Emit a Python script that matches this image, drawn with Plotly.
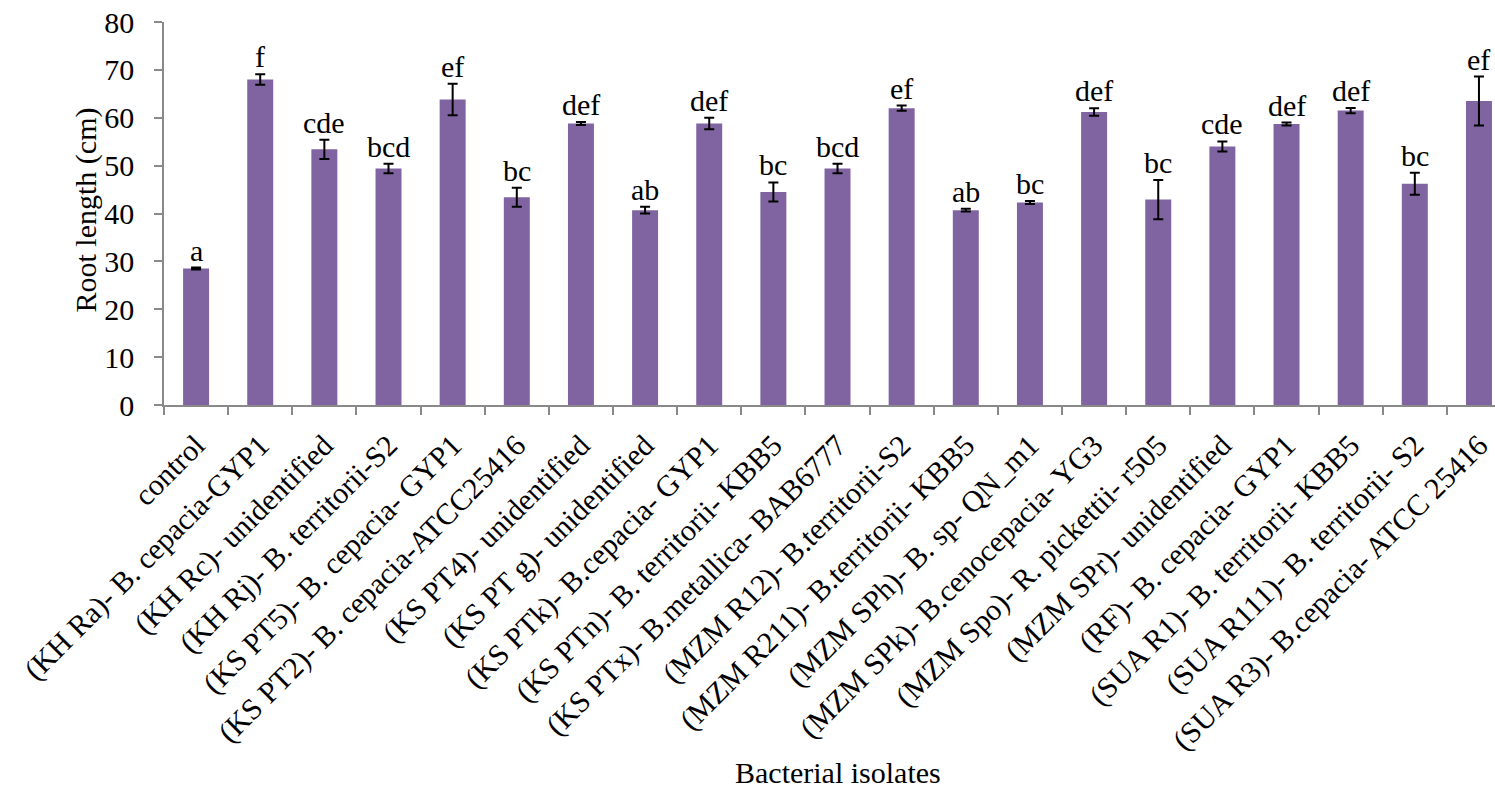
import plotly.graph_objects as go

# Bacterial isolates tested and mean root length (cm) with standard errors
isolates = [
    "control",
    "(KH Ra)- B. cepacia-GYP1",
    "(KH Rc)- unidentified",
    "(KH Rj)- B. territorii-S2",
    "(KS PT5)- B. cepacia- GYP1",
    "(KS PT2)- B. cepacia-ATCC25416",
    "(KS PT4)- unidentified",
    "(KS PT g)- unidentified",
    "(KS PTk)- B.cepacia- GYP1",
    "(KS PTn)- B. territorii- KBB5",
    "(KS PTx)- B.metallica- BAB6777",
    "(MZM R12)- B.territorii-S2",
    "(MZM R211)- B.territorii- KBB5",
    "(MZM SPh)- B. sp- QN_m1",
    "(MZM SPk)- B.cenocepacia- YG3",
    "(MZM Spo)- R. pickettii- r505",
    "(MZM SPr)- unidentified",
    "(RF)- B. cepacia- GYP1",
    "(SUA R1)- B. territorii- KBB5",
    "(SUA R111)- B. territorii- S2",
    "(SUA R3)- B.cepacia- ATCC 25416",
]
root_length = [28.5, 68.0, 53.4, 49.4, 63.8, 43.4, 58.8, 40.7, 58.8, 44.5, 49.4,
               62.0, 40.7, 42.3, 61.2, 42.9, 54.0, 58.7, 61.5, 46.2, 63.5]
std_err = [0.2, 1.1, 2.0, 1.0, 3.3, 2.0, 0.3, 0.7, 1.2, 2.0, 1.0,
           0.55, 0.3, 0.3, 0.8, 4.1, 1.05, 0.3, 0.55, 2.3, 5.1]
groups = ["a", "f", "cde", "bcd", "ef", "bc", "def", "ab", "def", "bc", "bcd",
          "ef", "ab", "bc", "def", "bc", "cde", "def", "def", "bc", "ef"]
y_ticks = [0, 10, 20, 30, 40, 50, 60, 70, 80]

FONT = "Liberation Serif, Times New Roman, serif"
FS = 30
AXIS_GRAY = "#898989"

fig = go.Figure(
    go.Bar(
        x=isolates,
        y=root_length,
        width=0.405,
        marker=dict(color="#8064A2", line=dict(width=0)),
        error_y=dict(type="data", array=std_err, visible=True,
                     color="black", thickness=2, width=5),
    )
)

# significance letters sit just above each error bar
for name, val, err, g in zip(isolates, root_length, std_err, groups):
    fig.add_annotation(
        x=name, y=val + err, xref="x", yref="y",
        text=g, showarrow=False, yanchor="bottom", yshift=-1,
        font=dict(family=FONT, size=FS, color="black"),
    )

# axis titles
fig.add_annotation(
    x=0, y=0.5, xref="paper", yref="paper", xshift=-79, yshift=3,
    text="Root length (cm)", textangle=-90, showarrow=False,
    xanchor="center", yanchor="middle",
    font=dict(family=FONT, size=FS, color="black"),
)
fig.add_annotation(
    x=10, y=0, xref="x", yref="paper", yshift=-367,
    text="Bacterial isolates", showarrow=False,
    xanchor="center", yanchor="middle",
    font=dict(family=FONT, size=FS, color="black"),
)

fig.update_layout(
    width=1495, height=789,
    margin=dict(l=164, r=0, t=22, b=384),
    paper_bgcolor="white", plot_bgcolor="white",
    showlegend=False,
    font=dict(family=FONT, size=FS, color="black"),
    xaxis=dict(
        type="category", range=[-0.5, 20.25],
        showline=True, linecolor=AXIS_GRAY, linewidth=1.5,
        ticks="outside", tickson="boundaries", ticklen=8,
        tickcolor=AXIS_GRAY, tickwidth=1.5,
        tickangle=-45, ticklabelstandoff=9,
        showgrid=False, zeroline=False,
        tickfont=dict(family=FONT, size=FS, color="black"),
    ),
    yaxis=dict(
        range=[0, 80], tickvals=y_ticks,
        showline=True, linecolor=AXIS_GRAY, linewidth=1.5,
        ticks="outside", ticklen=8, tickcolor=AXIS_GRAY, tickwidth=1.5,
        ticklabelstandoff=14,
        showgrid=False, zeroline=False,
        tickfont=dict(family=FONT, size=FS, color="black"),
    ),
)

fig.write_html("out.html")
